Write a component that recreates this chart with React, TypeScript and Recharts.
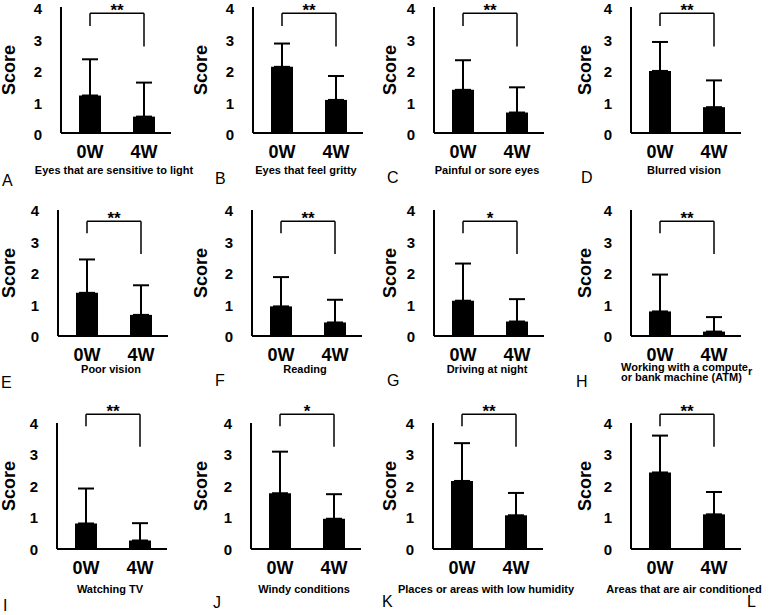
import React from 'react';
import { BarChart, Bar, XAxis, YAxis, ErrorBar, ReferenceLine } from 'recharts';

// ---- data ----
const categories = ['0W', '4W'];
const panelLetters = ['A', 'B', 'C', 'D', 'E', 'F', 'G', 'H', 'I', 'J', 'K', 'L'];
const panelTitles = [
  'Eyes that are sensitive to light',
  'Eyes that feel gritty',
  'Painful or sore eyes',
  'Blurred vision',
  'Poor vision',
  'Reading',
  'Driving at night',
  'Working with a computer or bank machine (ATM)',
  'Watching TV',
  'Windy conditions',
  'Places or areas with low humidity',
  'Areas that are air conditioned',
];
const mean0W = [1.19, 2.1, 1.37, 1.97, 1.37, 0.94, 1.12, 0.78, 0.81, 1.77, 2.16, 2.43];
const sd0W = [1.15, 0.74, 0.94, 0.92, 1.06, 0.93, 1.18, 1.17, 1.11, 1.32, 1.2, 1.17];
const mean4W = [0.52, 1.05, 0.65, 0.82, 0.67, 0.43, 0.46, 0.14, 0.27, 0.96, 1.07, 1.1];
const sd4W = [1.08, 0.76, 0.8, 0.85, 0.94, 0.72, 0.71, 0.46, 0.55, 0.78, 0.71, 0.71];
const significance = ['**', '**', '**', '**', '**', '**', '*', '**', '**', '*', '**', '**'];
const yTicks = [0, 1, 2, 3, 4];
// bracket heights (score units) per row: top bar, left leg end, right leg end
const bracketTop = [3.8, 3.64, 4.28];
const bracketLeft = [3.4, 3.26, 3.9];
const bracketRight = [2.75, 2.6, 3.25];

// ---- layout ----
const FONT = 'Liberation Sans, Arial, sans-serif';
const axisXs = [61, 253, 434, 631, 58, 252, 434, 631, 57, 251, 433, 631];
const scoreXs = [9, 201, 390, 585];
const zeroYs = [133, 336, 549];
const yTickDy = [2, 1, 0.5];
const titleBaselines = [174, 373, 593];
const letterPos = [
  [2, 186], [215, 184], [387, 183], [581, 183],
  [1, 388], [215, 386], [387, 386], [576, 387],
  [3, 611], [213, 608], [382, 607], [747, 607],
];
const PLOT_W = 110;
const PLOT_H = 126;
const Y_AXIS_W = 72;
const TOP_M = 30;
const X_AXIS_H = 30;
const RIGHT_M = 4;

const SigLabel = (props: any) => {
  const vb = props.viewBox || {};
  return (
    <text
      x={vb.x + vb.width / 2}
      y={vb.y + 3}
      textAnchor="middle"
      fontFamily={FONT}
      fontWeight="bold"
      fontSize={17}
      fill="#000"
    >
      {props.text}
    </text>
  );
};

const ScoreLabel = (props: any) => {
  const vb = props.viewBox || {};
  const cx = props.cx;
  const cy = vb.y + vb.height / 2;
  return (
    <text
      x={cx}
      y={cy}
      transform={`rotate(-90, ${cx}, ${cy})`}
      textAnchor="middle"
      dominantBaseline="central"
      fontFamily={FONT}
      fontWeight="bold"
      fontSize={18}
      fill="#000"
    >
      Score
    </text>
  );
};

function Panel({ i }: { i: number }) {
  const row = Math.floor(i / 4);
  const col = i % 4;
  const data = categories.map((c, k) => ({
    cat: c,
    value: k === 0 ? mean0W[i] : mean4W[i],
    err: [0, k === 0 ? sd0W[i] : sd4W[i]],
  }));
  const left = axisXs[i] - Y_AXIS_W;
  const top = zeroYs[row] - PLOT_H - TOP_M;
  const w = Y_AXIS_W + PLOT_W + RIGHT_M;
  const h = TOP_M + PLOT_H + X_AXIS_H;
  const t = bracketTop[row];
  return (
    <div style={{ position: 'absolute', left, top, width: w, height: h }}>
      <BarChart
        width={w}
        height={h}
        data={data}
        margin={{ top: TOP_M, right: RIGHT_M, bottom: 0, left: 0 }}
        barSize={22}
      >
        <XAxis
          dataKey="cat"
          height={X_AXIS_H}
          tickLine={false}
          tickSize={0}
          tickMargin={12}
          padding={{ left: 2, right: 0 }}
          axisLine={{ stroke: '#000', strokeWidth: 2 }}
          tick={{ fontSize: 18, fontWeight: 'bold', fill: '#000', fontFamily: FONT }}
        />
        <YAxis
          width={Y_AXIS_W}
          domain={[0, 4]}
          ticks={yTicks}
          interval={0}
          tickLine={false}
          tickSize={0}
          tickMargin={19}
          axisLine={{ stroke: '#000', strokeWidth: 2 }}
          tick={{ fontSize: 15, fontWeight: 'bold', fill: '#000', fontFamily: FONT, dy: yTickDy[row] }}
          label={<ScoreLabel cx={scoreXs[col] - left} />}
        />
        <Bar dataKey="value" fill="#000" isAnimationActive={false}>
          <ErrorBar dataKey="err" width={8} strokeWidth={2} stroke="#000" direction="y" isAnimationActive={false} />
        </Bar>
        <ReferenceLine
          segment={[{ x: '0W', y: t }, { x: '4W', y: t }]}
          stroke="#000"
          strokeWidth={1.5}
          ifOverflow="visible"
          label={<SigLabel text={significance[i]} />}
        />
        <ReferenceLine
          segment={[{ x: '0W', y: t }, { x: '0W', y: bracketLeft[row] }]}
          stroke="#000"
          strokeWidth={1.5}
          ifOverflow="visible"
        />
        <ReferenceLine
          segment={[{ x: '4W', y: t }, { x: '4W', y: bracketRight[row] }]}
          stroke="#000"
          strokeWidth={1.5}
          ifOverflow="visible"
        />
      </BarChart>
    </div>
  );
}

export default function App() {
  return (
    <div
      style={{
        position: 'absolute',
        left: 0,
        top: 0,
        width: 774,
        height: 615,
        background: '#fff',
        overflow: 'hidden',
      }}
    >
      {panelTitles.map((_, i) => (
        <Panel key={i} i={i} />
      ))}
      <svg
        width={774}
        height={615}
        style={{ position: 'absolute', left: 0, top: 0, pointerEvents: 'none' }}
      >
        {panelTitles.map((title, i) => {
          const row = Math.floor(i / 4);
          if (i === 7) {
            const x0 = axisXs[i] - 10;
            return (
              <g key={i} fontFamily={FONT} fontWeight="bold" fontSize={11} fill="#000">
                <text x={x0} y={titleBaselines[row] - 2}>
                  Working with a compute
                  <tspan dy={4}>r</tspan>
                </text>
                <text x={x0} y={titleBaselines[row] + 8}>
                  or bank machine (ATM)
                </text>
              </g>
            );
          }
          return (
            <text
              key={i}
              x={axisXs[i] + PLOT_W / 2 - 2}
              y={titleBaselines[row]}
              textAnchor="middle"
              fontFamily={FONT}
              fontWeight="bold"
              fontSize={11}
              fill="#000"
            >
              {title}
            </text>
          );
        })}
        {panelLetters.map((l, i) => (
          <text
            key={l}
            x={letterPos[i][0]}
            y={letterPos[i][1]}
            fontFamily={FONT}
            fontSize={16}
            fill="#000"
          >
            {l}
          </text>
        ))}
      </svg>
    </div>
  );
}
